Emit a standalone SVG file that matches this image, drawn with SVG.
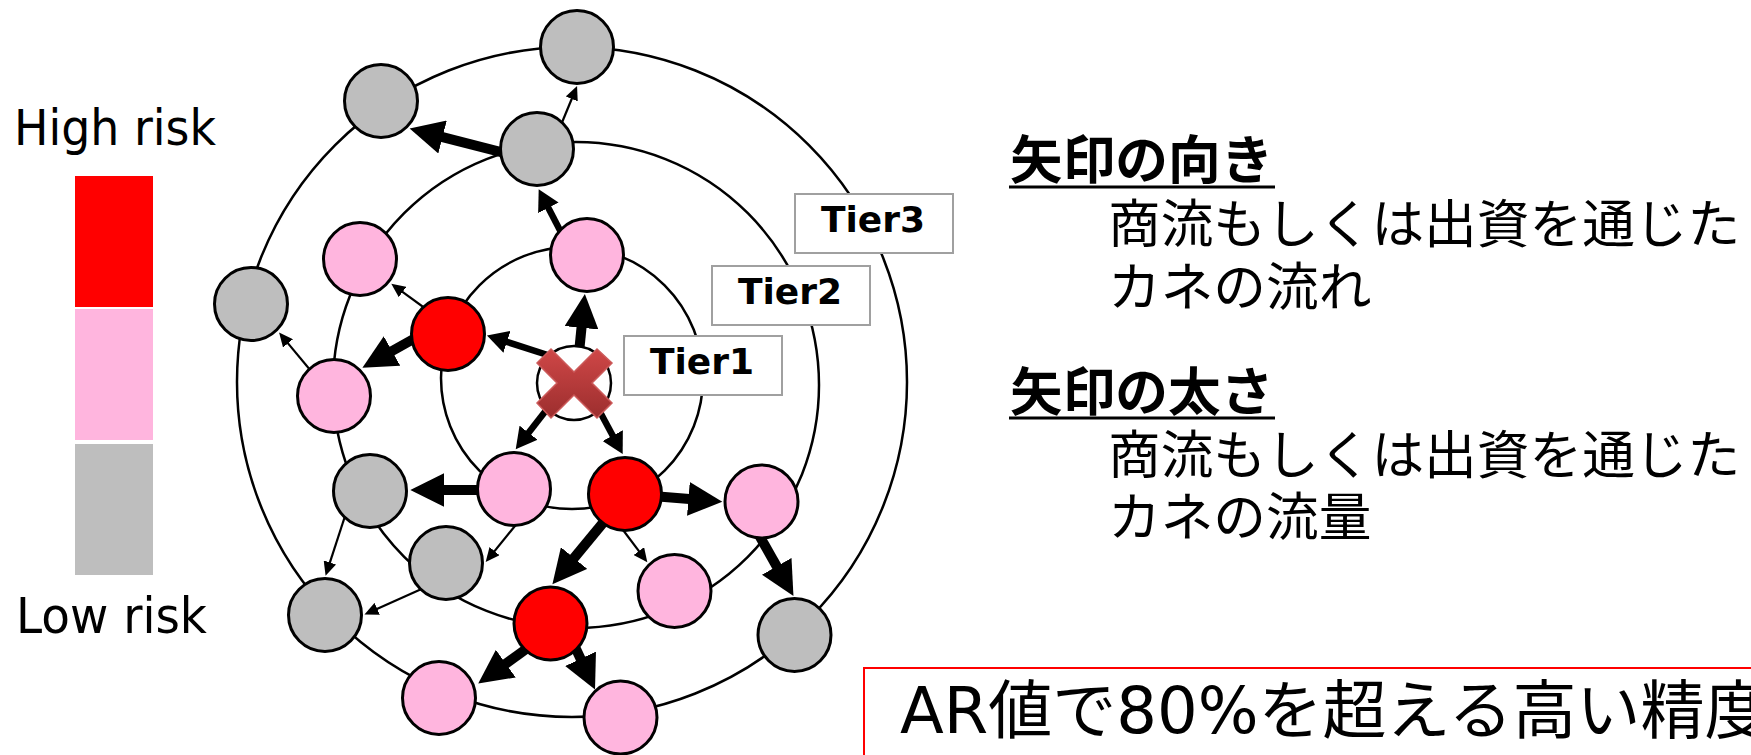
<svg xmlns="http://www.w3.org/2000/svg" width="1751" height="755" viewBox="0 0 1751 755">
<style>
.ring{fill:none;stroke:#000;stroke-width:2.5}
.n{stroke:#000;stroke-width:3}
.red{fill:#FF0000}
.pink{fill:#FFB5DE}
.gray{fill:#BEBEBE}
.e{fill:none;stroke:#000;stroke-linecap:butt}
.thick{stroke-width:10;marker-end:url(#hk)}
.med{stroke-width:6.5;marker-end:url(#hm)}
.thin{stroke-width:2.2;marker-end:url(#hs)}
.tier rect{fill:#fff;stroke:#A0A0A0;stroke-width:2}
.tier text{font-family:"DejaVu Sans",sans-serif;font-weight:bold;font-size:36px;text-anchor:middle;fill:#000}
.leg{font-family:"DejaVu Sans",sans-serif;font-size:50px;fill:#000}
.jp{font-family:"Noto Sans CJK JP",sans-serif;font-size:52.7px;fill:#000}
.jb{font-weight:bold}
.ul{stroke:#000;stroke-width:3}
</style>
<defs>
<marker id="hk" markerUnits="userSpaceOnUse" markerWidth="35" markerHeight="34" refX="1" refY="17" orient="auto"><path d="M0,0L34,17L0,34z" fill="#000"/></marker>
<marker id="hm" markerUnits="userSpaceOnUse" markerWidth="22" markerHeight="23" refX="1" refY="11.5" orient="auto"><path d="M0,0L21,11.5L0,23z" fill="#000"/></marker>
<marker id="hs" markerUnits="userSpaceOnUse" markerWidth="15" markerHeight="13" refX="1" refY="6.5" orient="auto"><path d="M0,0L14,6.5L0,13z" fill="#000"/></marker>
<linearGradient id="xg" x1="0" y1="0" x2="0" y2="1">
<stop offset="0" stop-color="#CF4747"/>
<stop offset="1" stop-color="#9C2E2E"/>
</linearGradient>
</defs>
<rect width="1751" height="755" fill="#fff"/>

<g id="legend">
<text class="leg" x="14" y="145" textLength="202" lengthAdjust="spacingAndGlyphs">High risk</text>
<rect x="75" y="176" width="78" height="131" fill="#FF0000"/>
<rect x="75" y="309" width="78" height="131" fill="#FFB5DE"/>
<rect x="75" y="444" width="78" height="131" fill="#BEBEBE"/>
<text class="leg" x="16" y="633" textLength="191" lengthAdjust="spacingAndGlyphs">Low risk</text>
</g>

<g id="rings">
<circle class="ring" cx="572" cy="378" r="131"/>
<circle class="ring" cx="576" cy="385" r="243"/>
<circle class="ring" cx="572" cy="382" r="335"/>
</g>

<g id="connectors">
<path class="e thick" d="M576,383L581.6,326.8"/>
<path class="e thick" d="M520,157L441.6,136.8"/>
<path class="e thin" d="M556,137L572.1,98"/>
<path class="e med" d="M565,240L547.9,207"/>
<path class="e med" d="M560,359L506,341.6"/>
<path class="e med" d="M558,395L528,433.5"/>
<path class="e med" d="M592,397L613.2,436.5"/>
<path class="e thin" d="M437,317L401.8,291.4"/>
<path class="e thick" d="M426,332L391.2,351.5"/>
<path class="e thin" d="M316,377L287.4,342.6"/>
<path class="e thick" d="M490,490L443.3,490"/>
<path class="e thin" d="M519,521L493.9,551.9"/>
<path class="e thin" d="M347,510L329.6,563.4"/>
<path class="e thin" d="M426,587L376.3,609.2"/>
<path class="e thick" d="M640,495L689.4,499"/>
<path class="e thick" d="M612,512L573.4,558.8"/>
<path class="e thin" d="M620,526L639.5,551.9"/>
<path class="e thick" d="M755,528L777.2,567.2"/>
<path class="e thick" d="M540,639L505,664.2"/>
<path class="e thick" d="M568,632L581,659.7"/>
</g>

<g id="nodes">
<g id="g1"><circle class="n gray" cx="577" cy="47" r="36.5"/></g>
<g id="g2"><circle class="n gray" cx="537" cy="149" r="36.5"/></g>
<g id="g3"><circle class="n gray" cx="381" cy="101" r="36.5"/></g>
<g id="p1"><circle class="n pink" cx="587" cy="255" r="36.5"/></g>
<g id="p2"><circle class="n pink" cx="360" cy="259" r="36.5"/></g>
<g id="g4"><circle class="n gray" cx="251" cy="304" r="36.5"/></g>
<g id="r1"><circle class="n red" cx="448" cy="334" r="36.5"/></g>
<g id="p3"><circle class="n pink" cx="334" cy="396" r="36.5"/></g>
<g id="p4"><circle class="n pink" cx="514" cy="489" r="36.5"/></g>
<g id="g5"><circle class="n gray" cx="370" cy="491" r="36.5"/></g>
<g id="g6"><circle class="n gray" cx="446" cy="563" r="36.5"/></g>
<g id="g7"><circle class="n gray" cx="325" cy="615" r="36.5"/></g>
<g id="r2"><circle class="n red" cx="625" cy="494" r="36.5"/></g>
<g id="p5"><circle class="n pink" cx="761.5" cy="501.5" r="36.5"/></g>
<g id="p6"><circle class="n pink" cx="674.5" cy="591" r="36.5"/></g>
<g id="g8"><circle class="n gray" cx="794.5" cy="635" r="36.5"/></g>
<g id="r3"><circle class="n red" cx="550.5" cy="623.5" r="36.5"/></g>
<g id="p7"><circle class="n pink" cx="439" cy="698" r="36.5"/></g>
<g id="p8"><circle class="n pink" cx="620.5" cy="717.5" r="36.5"/></g>
<g id="origin">
<circle cx="574" cy="383" r="37" fill="#fff" stroke="#000" stroke-width="2.5"/>
<polygon points="537,363 551,349 574,372 597,349 612,363 592,383 612,403 597,418 574,395 551,418 537,403 557,383" fill="url(#xg)" stroke="#CC5A5A" stroke-width="1.5" stroke-linejoin="miter"/>
</g>
</g>

<g id="tier3" class="tier"><rect x="795" y="194" width="158" height="59"/><text x="873" y="232">Tier3</text></g>
<g id="tier2" class="tier"><rect x="712" y="266" width="158" height="59"/><text x="790" y="304">Tier2</text></g>
<g id="tier1" class="tier"><rect x="624" y="336" width="158" height="59"/><text x="702" y="374">Tier1</text></g>

<g id="explain">
<text class="jp jb" x="1010" y="179">矢印の向き</text>
<line class="ul" x1="1009" y1="187" x2="1275" y2="187"/>
<text class="jp" x="1108" y="243">商流もしくは出資を通じた</text>
<text class="jp" x="1108" y="306">カネの流れ</text>
<text class="jp jb" x="1010" y="411">矢印の太さ</text>
<line class="ul" x1="1009" y1="418" x2="1275" y2="418"/>
<text class="jp" x="1108" y="474">商流もしくは出資を通じた</text>
<text class="jp" x="1108" y="536">カネの流量</text>
</g>

<g id="result">
<rect x="864" y="668" width="1000" height="200" fill="#fff" stroke="#FF0000" stroke-width="2"/>
<text x="900" y="733" font-family="'DejaVu Sans','Noto Sans CJK JP',sans-serif" font-size="64" fill="#000">AR値で80%を超える高い精度</text>
</g>
</svg>
